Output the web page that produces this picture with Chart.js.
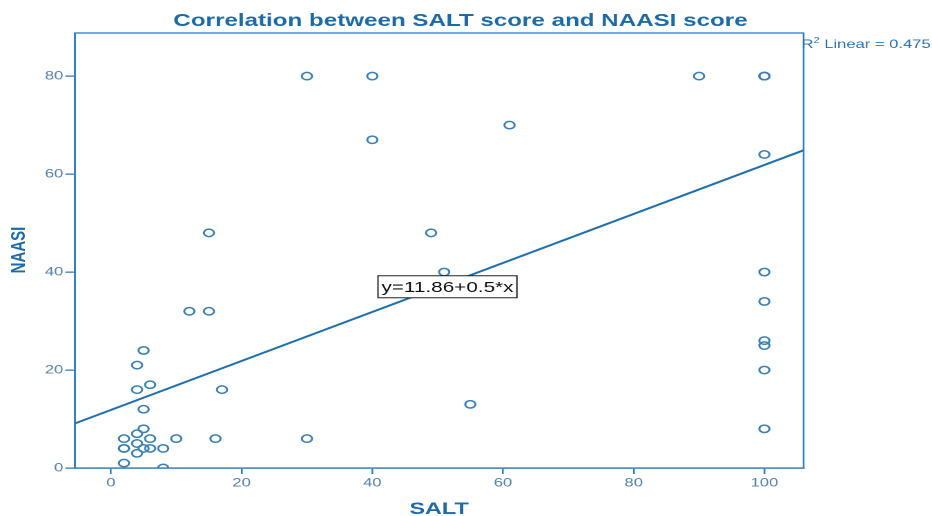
<!DOCTYPE html>
<html>
<head>
<meta charset="utf-8">
<script src="https://cdn.jsdelivr.net/npm/chart.js@4.4.1/dist/chart.umd.min.js"></script>
<style>
  html, body { margin: 0; padding: 0; background: #fff; }
  #chart { display: block; }
</style>
</head>
<body>
<!-- the reference is a horizontally stretched SPSS export, so the canvas is drawn narrow and stretched by CSS -->
<canvas id="chart" width="675" height="516" style="width:932px;height:516px"></canvas>
<script>
const saltScores = [30, 40, 90, 100, 100, 100, 40, 61, 100, 15, 49, 51, 100, 100, 12, 15,
  100, 100, 5, 4, 6, 4, 17, 100, 5, 55, 100, 5, 4, 2, 6, 10, 16, 30, 4, 2, 2, 5, 6, 8, 4, 2, 8];
const naasiScores = [80, 80, 80, 80, 80, 80, 67, 70, 64, 48, 48, 40, 40, 34, 32, 32,
  26, 25, 24, 21, 17, 16, 16, 20, 12, 13, 8, 8, 7, 6, 6, 6, 6, 6, 5, 4, 4, 4, 4, 4, 3, 1, 0];
const xTicks = [0, 20, 40, 60, 80, 100];
const yTicks = [0, 20, 40, 60, 80];
const fitIntercept = 11.86;
const fitSlope = 0.5;
const rSquared = 0.475;

const X_MIN = -5.5, X_MAX = 106, Y_MIN = 0, Y_MAX = 88.8;
const FONT = '"Liberation Sans", Arial, sans-serif';
const TITLE_BLUE = '#1c6aa6';
const FRAME_BLUE = '#2f7fc1';
const TICK_BLUE = '#5281a9';

const points = saltScores.map((s, i) => ({ x: s, y: naasiScores[i] }));
const fitLine = [X_MIN, X_MAX].map(v => ({ x: v, y: fitIntercept + fitSlope * v }));

const annotations = {
  id: 'annotations',
  afterDraw(chart) {
    const { ctx, chartArea: a, scales: { x, y } } = chart;
    ctx.save();

    // plot frame
    ctx.strokeStyle = FRAME_BLUE;
    ctx.lineWidth = 1.3;
    ctx.strokeRect(a.left, a.top, a.right - a.left, a.bottom - a.top);

    // titles
    ctx.fillStyle = TITLE_BLUE;
    ctx.textAlign = 'center';
    ctx.textBaseline = 'alphabetic';
    ctx.font = 'bold 17.5px ' + FONT;
    ctx.fillText('Correlation between SALT score and NAASI score', 333.5, 26);
    ctx.font = 'bold 17px ' + FONT;
    ctx.fillText('SALT', 318, 514);
    ctx.save();
    ctx.translate(14, 250);
    ctx.rotate(-Math.PI / 2);
    ctx.textBaseline = 'middle';
    ctx.font = 'bold 15px ' + FONT;
    ctx.fillText('NAASI', 0, 0);
    ctx.restore();

    // R squared label
    ctx.textAlign = 'left';
    ctx.fillStyle = '#2a72b0';
    let lx = a.right - 1.5;
    ctx.font = '12px ' + FONT;
    ctx.fillText('R', lx, 48);
    lx += ctx.measureText('R').width;
    ctx.font = '8px ' + FONT;
    ctx.fillText('2', lx, 43);
    lx += ctx.measureText('2').width;
    ctx.font = '12px ' + FONT;
    ctx.fillText(' Linear = ' + rSquared.toFixed(3), lx, 48);

    // equation box on the fit line
    const labelAt = 51.5;
    const cx = x.getPixelForValue(labelAt);
    const cy = y.getPixelForValue(fitIntercept + fitSlope * labelAt) + 3;
    const eq = 'y=' + fitIntercept + '+' + fitSlope + '*x';
    ctx.font = '15px ' + FONT;
    const w = ctx.measureText(eq).width + 5;
    const h = 22;
    ctx.fillStyle = '#fff';
    ctx.fillRect(cx - w / 2, cy - h / 2, w, h);
    ctx.strokeStyle = '#222';
    ctx.lineWidth = 1;
    ctx.strokeRect(cx - w / 2, cy - h / 2, w, h);
    ctx.fillStyle = '#111';
    ctx.textAlign = 'center';
    ctx.textBaseline = 'middle';
    ctx.fillText(eq, cx, cy + 1);

    ctx.restore();
  }
};

new Chart(document.getElementById('chart'), {
  type: 'scatter',
  data: {
    datasets: [
      {
        data: points,
        pointStyle: 'circle',
        pointRadius: 3.7,
        pointBorderWidth: 1.5,
        pointBackgroundColor: 'rgba(0,0,0,0)',
        pointBorderColor: '#3a80b3',
        clip: 0
      },
      {
        data: fitLine,
        showLine: true,
        pointRadius: 0,
        borderColor: '#1f70ad',
        borderWidth: 1.9,
        clip: 0
      }
    ]
  },
  plugins: [annotations],
  options: {
    responsive: false,
    devicePixelRatio: 2,
    animation: false,
    events: [],
    layout: { padding: { left: 0, top: 33, right: 93, bottom: 0 } },
    plugins: {
      legend: { display: false },
      tooltip: { enabled: false }
    },
    scales: {
      x: {
        type: 'linear',
        min: X_MIN,
        max: X_MAX,
        afterBuildTicks: s => { s.ticks = xTicks.map(v => ({ value: v })); },
        afterFit: s => { s.height = 48; },
        grid: { drawOnChartArea: false, tickLength: 6, tickColor: FRAME_BLUE, lineWidth: 1.3 },
        border: { display: true, color: FRAME_BLUE, width: 1.3 },
        ticks: { color: TICK_BLUE, font: { family: FONT, size: 12 }, padding: 2, maxRotation: 0 }
      },
      y: {
        type: 'linear',
        min: Y_MIN,
        max: Y_MAX,
        afterBuildTicks: s => { s.ticks = yTicks.map(v => ({ value: v })); },
        afterFit: s => { s.width = 54.3; },
        grid: { drawOnChartArea: false, tickLength: 7, tickColor: FRAME_BLUE, lineWidth: 1.3 },
        border: { display: true, color: FRAME_BLUE, width: 1.3 },
        ticks: { color: TICK_BLUE, font: { family: FONT, size: 12 }, padding: 1.5 }
      }
    }
  }
});
</script>
</body>
</html>
